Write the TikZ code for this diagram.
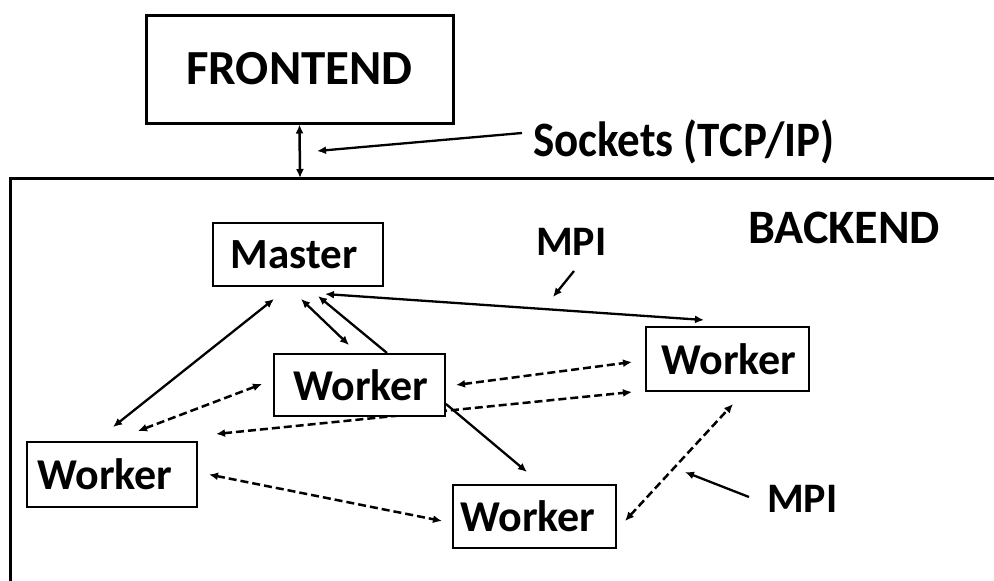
\documentclass[tikz,border=0pt]{standalone}
\usepackage{fontspec}
\setmainfont{Carlito}
\usepackage{tikz}
\usetikzlibrary{arrows.meta,backgrounds,positioning}
\definecolor{pcInk}{HTML}{000000}
\tikzset{
  >={Latex[length=9pt,width=8pt]},
  pc diagram/.style={text=pcInk, line join=miter},
  pc box/.style={draw=pcInk, fill=white, line width=2pt, inner sep=0pt,
    minimum width=170pt, minimum height=63pt,
    font=\fontsize{44}{50}\selectfont\bfseries},
  pc pad/.style={execute at end node={\hspace*{#1}}},
  pc frame/.style={draw=pcInk, line width=3pt},
  pc arrow/.style={->, draw=pcInk, line width=2.3pt},
  pc link/.style={<->, draw=pcInk, line width=2.5pt, dash pattern=on 8pt off 4pt},
  pc label/.style={inner sep=0pt, anchor=base west,
    font=\fontsize{44}{50}\selectfont\bfseries}
}

\begin{document}
\begin{tikzpicture}[pc diagram,x=1pt,y=-1pt]
\useasboundingbox (0,0) rectangle (994,581);
% frontend and socket link
\node[pc box, line width=3pt, minimum width=307pt, minimum height=108pt,
  font=\fontsize{49}{55}\selectfont\bfseries] (frontend) at (299.5,69) {FRONTEND};
\coordinate (backtop) at (300,178);
\draw[pc frame] (994,178) -- (10,178) -- (10,581);
\draw[pc arrow,<->,line width=2.5pt] (frontend.south) -- (backtop);
\node[pc label, font=\fontsize{45}{50}\selectfont\bfseries] (sockets) at (533,156)
  {\scalebox{1}[1.1]{Sockets (TCP/IP)}};
\coordinate (socktip) at (317,151);
\draw[pc arrow] ([xshift=-11pt,yshift=23pt]sockets.base west) -- (socktip);
% backend
\node[pc label, font=\fontsize{48}{50}\selectfont\bfseries] (backend) at (748,243) {BACKEND};
\node[pc label, font=\fontsize{42}{50}\selectfont\bfseries] (mpiTop) at (536,255) {MPI};
\node[pc label, font=\fontsize{42}{50}\selectfont\bfseries] (mpiLow) at (767,512) {MPI};
\coordinate (mpiTopTip) at (553,297);
\coordinate (mpiLowTip) at (685,472);
\draw[pc arrow] ([xshift=38pt,yshift=-16pt]mpiTop.base west) -- (mpiTopTip);
\draw[pc arrow] ([xshift=-18pt,yshift=15pt]mpiLow.base west) -- (mpiLowTip);
\node[pc box, pc pad=8pt, font=\fontsize{43}{50}\selectfont\bfseries] (master) at (298,254.5) {Master};
\node[pc box, pc pad=-3pt, minimum width=171pt, minimum height=62pt] (wkMid) at (359.5,385) {Worker};
\node[pc box, pc pad=14pt, minimum height=65pt] (wkLeft) at (112,474.5) {Worker};
\node[pc box, pc pad=13pt, minimum width=163pt] (wkLow) at (534.5,516.5) {Worker};
\node[pc box, pc pad=-3pt, minimum width=163pt, minimum height=64pt] (wkRight) at (727.5,359) {Worker};
\begin{scope}[on background layer]
\draw[pc arrow,<->] ([xshift=-24pt,yshift=-12pt]master.south) -- ([xshift=1pt,yshift=14pt]wkLeft.north);
\draw[pc arrow,<->] ([xshift=3pt,yshift=-12pt]master.south) -- ([xshift=-10.5pt,yshift=8pt]wkMid.north);
\draw[pc arrow] ([xshift=27.5pt]wkMid.north) -- ([xshift=20pt,yshift=-9pt]master.south);
\draw[pc arrow,<->] ([xshift=27pt,yshift=-7pt]master.south) -- ([xshift=-23.5pt,yshift=6pt]wkRight.north);
\draw[pc arrow] ([yshift=13pt]wkMid.south east) -- ([xshift=-7.5pt,yshift=12pt]wkLow.north);
\draw[pc link] ([xshift=26pt,yshift=10pt]wkLeft.north) -- ([xshift=-11pt,yshift=1pt]wkMid.west);
\draw[pc link] ([xshift=18pt,yshift=7pt]wkLeft.north east) -- ([xshift=-13pt]wkRight.south west);
\draw[pc link] ([xshift=10pt]wkMid.east) -- ([xshift=-13pt,yshift=-3pt]wkRight.west);
\draw[pc link] ([xshift=11pt]wkLeft.east) -- ([xshift=-10pt,yshift=-4.5pt]wkLow.west);
\draw[pc link] ([xshift=8pt,yshift=-4.5pt]wkLow.east) -- ([xshift=5.5pt,yshift=-12pt]wkRight.south);
\end{scope}
\end{tikzpicture}
\end{document}
